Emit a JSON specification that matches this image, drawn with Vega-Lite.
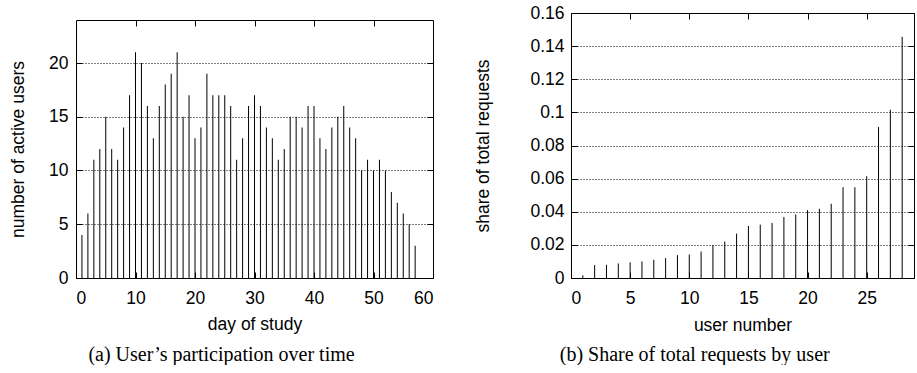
{
  "$schema": "https://vega.github.io/schema/vega-lite/v6.json",
  "padding": {"left": 9, "top": 4, "right": 0, "bottom": 0},
  "background": "white",
  "spacing": 40,
  "config": {
    "view": {"stroke": null},
    "axis": {
      "labelFont": "Liberation Sans", "labelFontSize": 17.5, "labelColor": "black",
      "titleFont": "Liberation Sans", "titleFontSize": 17.5, "titleFontWeight": "normal", "titleColor": "black",
      "domain": true, "domainColor": "black", "domainWidth": 1,
      "tickColor": "black", "tickSize": -6, "tickWidth": 1, "minExtent": 0,
      "gridColor": "black", "gridDash": [1, 2], "gridWidth": 1, "gridOpacity": 1
    },
    "title": {"font": "Liberation Serif", "fontSize": 20, "fontWeight": "normal", "color": "black"}
  },
  "datasets": {
    "days": [
      {"day": 1, "users": 4}, {"day": 2, "users": 6}, {"day": 3, "users": 11}, {"day": 4, "users": 12},
      {"day": 5, "users": 15}, {"day": 6, "users": 12}, {"day": 7, "users": 11}, {"day": 8, "users": 14},
      {"day": 9, "users": 17}, {"day": 10, "users": 21}, {"day": 11, "users": 20}, {"day": 12, "users": 16},
      {"day": 13, "users": 13}, {"day": 14, "users": 16}, {"day": 15, "users": 18}, {"day": 16, "users": 19},
      {"day": 17, "users": 21}, {"day": 18, "users": 15}, {"day": 19, "users": 17}, {"day": 20, "users": 13},
      {"day": 21, "users": 14}, {"day": 22, "users": 19}, {"day": 23, "users": 17}, {"day": 24, "users": 17},
      {"day": 25, "users": 17}, {"day": 26, "users": 16}, {"day": 27, "users": 11}, {"day": 28, "users": 13},
      {"day": 29, "users": 16}, {"day": 30, "users": 17}, {"day": 31, "users": 16}, {"day": 32, "users": 14},
      {"day": 33, "users": 13}, {"day": 34, "users": 11}, {"day": 35, "users": 12}, {"day": 36, "users": 15},
      {"day": 37, "users": 15}, {"day": 38, "users": 14}, {"day": 39, "users": 16}, {"day": 40, "users": 16},
      {"day": 41, "users": 13}, {"day": 42, "users": 12}, {"day": 43, "users": 14}, {"day": 44, "users": 15},
      {"day": 45, "users": 16}, {"day": 46, "users": 14}, {"day": 47, "users": 13}, {"day": 48, "users": 10},
      {"day": 49, "users": 11}, {"day": 50, "users": 10}, {"day": 51, "users": 11}, {"day": 52, "users": 10},
      {"day": 53, "users": 8}, {"day": 54, "users": 7}, {"day": 55, "users": 6}, {"day": 56, "users": 5},
      {"day": 57, "users": 3}
    ],
    "share": [
      {"user": 1, "share": 0.0016}, {"user": 2, "share": 0.0078}, {"user": 3, "share": 0.008}, {"user": 4, "share": 0.0088},
      {"user": 5, "share": 0.0095}, {"user": 6, "share": 0.010}, {"user": 7, "share": 0.011}, {"user": 8, "share": 0.012},
      {"user": 9, "share": 0.0138}, {"user": 10, "share": 0.0142}, {"user": 11, "share": 0.016}, {"user": 12, "share": 0.0198},
      {"user": 13, "share": 0.022}, {"user": 14, "share": 0.0268}, {"user": 15, "share": 0.0314}, {"user": 16, "share": 0.0322},
      {"user": 17, "share": 0.0332}, {"user": 18, "share": 0.0368}, {"user": 19, "share": 0.0384}, {"user": 20, "share": 0.041},
      {"user": 21, "share": 0.0418}, {"user": 22, "share": 0.0448}, {"user": 23, "share": 0.0548}, {"user": 24, "share": 0.0548},
      {"user": 25, "share": 0.0614}, {"user": 26, "share": 0.0912}, {"user": 27, "share": 0.1016}, {"user": 28, "share": 0.1456}
    ],
    "blank": [{"a": 0}]
  },
  "hconcat": [
    {
      "spacing": 0,
      "vconcat": [
        {
          "width": 357, "height": 5,
          "data": {"name": "blank"},
          "mark": {"type": "point", "opacity": 0},
          "encoding": {}
        },
        {
          "width": 357, "height": 258,
          "data": {"name": "days"},
          "title": {"text": "(a) User’s participation over time", "orient": "bottom", "anchor": "middle", "frame": "bounds", "offset": 12},
          "layer": [
            {
              "mark": {"type": "rule", "color": "black", "strokeWidth": 1},
              "encoding": {
                "x": {"field": "day", "type": "quantitative", "scale": {"domain": [0, 60], "nice": false},
                      "axis": {"values": [0, 10, 20, 30, 40, 50, 60], "grid": false, "title": "day of study", "labelPadding": 17, "titlePadding": 9}},
                "y": {"field": "users", "type": "quantitative", "scale": {"domain": [0, 24], "nice": false},
                      "axis": {"values": [0, 5, 10, 15, 20], "grid": true, "title": "number of active users", "labelPadding": 14, "titlePadding": 21}},
                "y2": {"datum": 0}
              }
            },
            {
              "mark": {"type": "rule", "opacity": 0},
              "encoding": {
                "x": {"field": "day", "type": "quantitative",
                      "axis": {"orient": "top", "values": [10, 20, 30, 40, 50], "labels": false, "grid": false, "title": null}},
                "y": {"field": "users", "type": "quantitative",
                      "axis": {"orient": "right", "values": [5, 10, 15, 20], "labels": false, "grid": false, "title": null}},
                "y2": {"datum": 0}
              }
            }
          ],
          "resolve": {"axis": {"x": "independent", "y": "independent"}}
        }
      ]
    },
    {
      "width": 343, "height": 265,
      "data": {"name": "share"},
      "title": {"text": "(b) Share of total requests by user", "orient": "bottom", "anchor": "middle", "frame": "bounds", "offset": 11},
      "layer": [
        {
          "mark": {"type": "rule", "color": "black", "strokeWidth": 1},
          "encoding": {
            "x": {"field": "user", "type": "quantitative", "scale": {"domain": [0, 29], "nice": false},
                  "axis": {"values": [0, 5, 10, 15, 20, 25], "grid": false, "title": "user number", "labelPadding": 17, "titlePadding": 10}},
            "y": {"field": "share", "type": "quantitative", "scale": {"domain": [0, 0.16], "nice": false},
                  "axis": {"values": [0, 0.02, 0.04, 0.06, 0.08, 0.1, 0.12, 0.14, 0.16], "format": "~g", "grid": true, "title": "share of total requests", "labelPadding": 13, "titlePadding": 37}},
            "y2": {"datum": 0}
          }
        },
        {
          "mark": {"type": "rule", "opacity": 0},
          "encoding": {
            "x": {"field": "user", "type": "quantitative",
                  "axis": {"orient": "top", "values": [5, 10, 15, 20, 25], "labels": false, "grid": false, "title": null}},
            "y": {"field": "share", "type": "quantitative",
                  "axis": {"orient": "right", "values": [0.02, 0.04, 0.06, 0.08, 0.1, 0.12, 0.14], "labels": false, "grid": false, "title": null}},
            "y2": {"datum": 0}
          }
        }
      ],
      "resolve": {"axis": {"x": "independent", "y": "independent"}}
    }
  ]
}
